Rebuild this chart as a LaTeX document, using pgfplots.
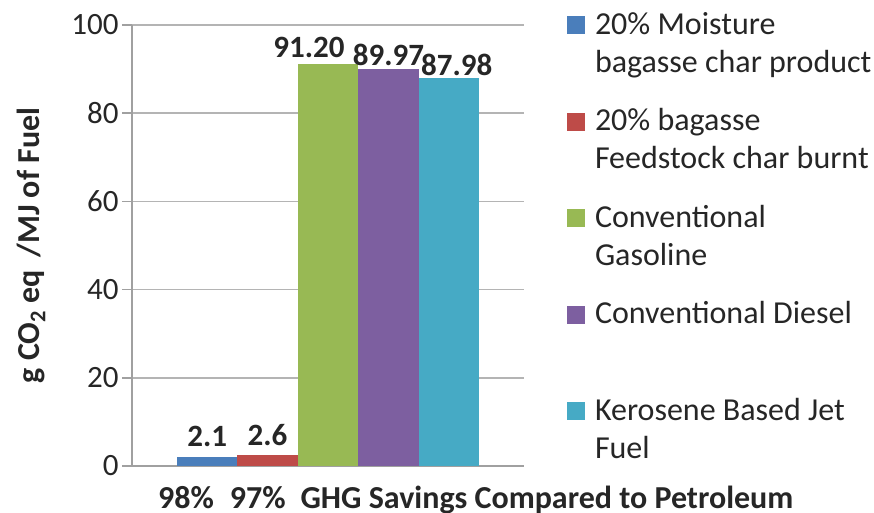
\documentclass[border=0pt]{standalone}
\usepackage{fontspec}
\setmainfont{Carlito}
\usepackage{pgfplots}
\pgfplotsset{compat=1.18}
\definecolor{sBlue}{HTML}{4A7EBB}
\definecolor{sRed}{HTML}{BE4B48}
\definecolor{sGreen}{HTML}{98B954}
\definecolor{sPurple}{HTML}{7D5FA0}
\definecolor{sCyan}{HTML}{46AAC5}
\definecolor{gridgray}{HTML}{B4B4B4}
\definecolor{axgray}{HTML}{A0A0A0}
\definecolor{txt}{HTML}{262626}
\newcommand{\LE}[2]{\hspace{8pt}\parbox[t]{290pt}{\rule{0pt}{24pt}#1\\#2\rule[-10pt]{0pt}{10pt}}}
\begin{document}
\begin{tikzpicture}[x=1pt,y=1pt]
\useasboundingbox (0,0) rectangle (874,512);
\begin{axis}[
  at={(132pt,46pt)}, anchor=south west,
  scale only axis, width=392pt, height=441pt,
  xmin=-1, xmax=1, ymin=0, ymax=100,
  ybar=0pt, bar width=60.4pt,
  xtick=\empty, ytick={0,20,...,100},
  ymajorgrids, grid style={color=gridgray, line width=1.5pt},
  axis lines*=left, axis line style={-, color=axgray, line width=1.5pt},
  tick align=outside, major tick length=10pt,
  tick style={color=axgray, line width=1.5pt},
  /pgf/number format/assume math mode=true,
  yticklabel style={font=\fontsize{31}{32}\selectfont, color=txt},
  nodes near coords, point meta=explicit symbolic,
  nodes near coords style={font=\bfseries\fontsize{31}{32}\selectfont, color=txt, inner sep=0pt, anchor=base},
  ylabel={g CO\textsubscript{2} eq\, /MJ of Fuel},
  ylabel style={font=\bfseries\fontsize{32}{34}\selectfont, color=txt, at={(axis description cs:-0.2577,0.5)}, anchor=center},
  xlabel={98\%\hspace{16pt}97\%\hspace{15pt}GHG Savings Compared to Petroleum},
  xlabel style={font=\bfseries\fontsize{32}{34}\selectfont, color=txt, at={(axis description cs:0.066,0)}, anchor=base west, yshift=-42pt, inner sep=0pt},
  legend style={draw=none, fill=none, inner sep=0pt, outer sep=0pt, row sep=67pt,
    at={(axis description cs:1.1097,1.0385)}, anchor=north west,
    font=\fontsize{32}{38}\selectfont, text=txt,
    cells={anchor=base west, inner sep=0pt}},
  legend image code/.code={\fill[#1] (0pt,0pt) rectangle (18pt,18pt);},
]
\addplot[fill=sBlue, draw=none, nodes near coords style={yshift=10pt}] coordinates {(0,2.1) [2.1]};
\addplot[fill=sRed, draw=none, nodes near coords style={yshift=9.5pt}] coordinates {(0,2.6) [2.6]};
\addplot[fill=sGreen, draw=none, nodes near coords style={yshift=6pt, xshift=-19pt}] coordinates {(0,91.20) [91.20]};
\addplot[fill=sPurple, draw=none, nodes near coords style={yshift=4pt}] coordinates {(0,89.97) [89.97]};
\addplot[fill=sCyan, draw=none, nodes near coords style={yshift=3pt, xshift=8pt}] coordinates {(0,87.98) [87.98]};
\legend{\LE{20\% Moisture}{bagasse char product},
        \LE{20\% bagasse}{Feedstock char burnt},
        \LE{Conventional}{Gasoline},
        \LE{Conventional Diesel}{\mbox{}},
        \LE{Kerosene Based Jet}{Fuel}}
\end{axis}
\end{tikzpicture}
\end{document}
